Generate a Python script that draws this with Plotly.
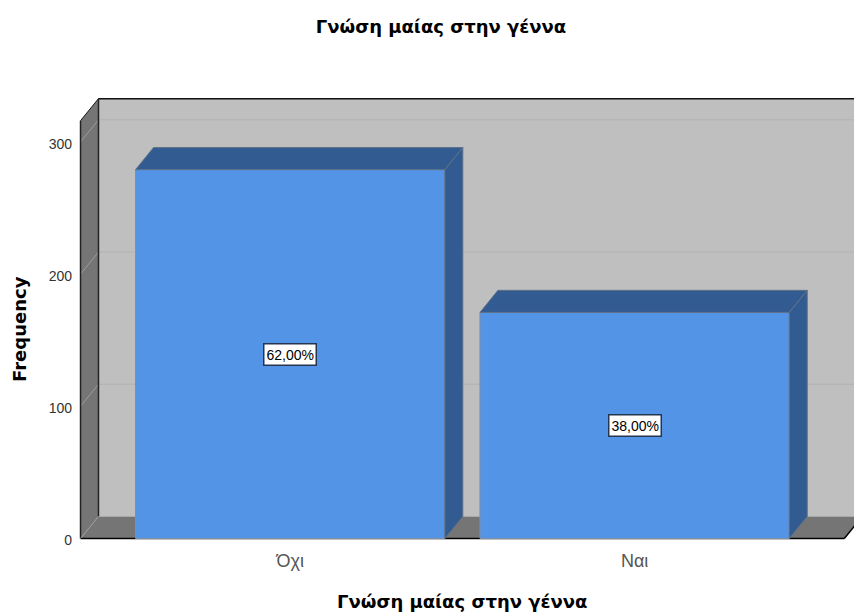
import plotly.graph_objects as go

# Data
categories = ["Όχι", "Ναι"]
frequencies = [279, 171]
percent_labels = ["62,00%", "38,00%"]
y_ticks = [0, 100, 200, 300]
chart_title = "Γνώση μαίας στην γέννα"
value_title = "Frequency"

# Pseudo-3D box proportions, in axis units
BAR_W = 0.898
DEPTH_X = 0.0522
DEPTH_Y = 16.7
WALL_TOP = 316
X_FRONT = (-0.6088, 1.6088)

# Page margins around the plot area, in pixels
PAGE_W, PAGE_H = 854, 615
M_L, M_R, M_T, M_B = 79, 0, 95.5, 73.5

# Colours
BAR_FRONT = "#5394E6"
BAR_DARK = "#325C91"
BAR_EDGE = "#5F7188"
WALL_BACK = "#BFBFBF"
WALL_SIDE = "#757575"
GRID_BACK = "#B2B2B2"
GRID_SIDE = "#9C9C9C"

TITLE_FONT = dict(family="DejaVu Sans", size=18, color="#000000", weight="bold")


def poly(points, fill, line=None, width=0):
    path = "M " + " L ".join(f"{x},{y}" for x, y in points) + " Z"
    return dict(type="path", path=path, xref="x", yref="y", layer="below",
                fillcolor=fill, line=dict(color=line or fill, width=width))


def seg(a, b, color, width=1):
    return dict(type="line", x0=a[0], y0=a[1], x1=b[0], y1=b[1], xref="x", yref="y",
                layer="below", line=dict(color=color, width=width))


def page_x(px):
    return (px - M_L) / (PAGE_W - M_L - M_R)


def page_y(py):
    return 1 - (py - M_T) / (PAGE_H - M_T - M_B)


x0, x1 = X_FRONT
bx0, bx1 = x0 + DEPTH_X, x1 + DEPTH_X

shapes = [
    poly([(bx0, DEPTH_Y), (bx0, WALL_TOP + DEPTH_Y), (bx1, WALL_TOP + DEPTH_Y), (bx1, DEPTH_Y)], WALL_BACK),
    poly([(x0, 0), (x0, WALL_TOP), (bx0, WALL_TOP + DEPTH_Y), (bx0, DEPTH_Y)], WALL_SIDE),
    poly([(x0, 0), (x1, 0), (bx1, DEPTH_Y), (bx0, DEPTH_Y)], WALL_SIDE),
]
for t in y_ticks[1:] + [WALL_TOP]:
    shapes.append(seg((bx0, t + DEPTH_Y), (bx1, t + DEPTH_Y), GRID_BACK, 1))
    shapes.append(seg((x0, t), (bx0, t + DEPTH_Y), GRID_SIDE if t != WALL_TOP else "#111111", 1))
shapes += [
    seg((x0, 0), (x0, WALL_TOP), "#222222", 1.5),
    seg((bx0, DEPTH_Y), (bx0, WALL_TOP + DEPTH_Y), "#222222", 1.5),
    seg((bx0, WALL_TOP + DEPTH_Y), (bx1, WALL_TOP + DEPTH_Y), "#111111", 1.5),
    seg((x0, 0), (x1, 0), "#000000", 1.5),
    seg((x1, 0), (bx1, DEPTH_Y), "#000000", 1.5),
    seg((x0, 0), (bx0, DEPTH_Y), GRID_SIDE, 1),
]

xs = list(range(len(categories)))
fig = go.Figure()

# Front faces of the bars
fig.add_trace(go.Bar(
    x=xs, y=frequencies, width=BAR_W,
    marker=dict(color=BAR_FRONT, line=dict(color="#7F8FA6", width=1)),
    hoverinfo="skip", showlegend=False,
))

# Top and right faces of the bars
for xc, v in zip(xs, frequencies):
    l, r = xc - BAR_W / 2, xc + BAR_W / 2
    fig.add_trace(go.Scatter(
        x=[l, r, r + DEPTH_X, l + DEPTH_X, l],
        y=[v, v, v + DEPTH_Y, v + DEPTH_Y, v],
        mode="lines", fill="toself", fillcolor=BAR_DARK,
        line=dict(color=BAR_EDGE, width=1), hoverinfo="skip", showlegend=False,
    ))
    fig.add_trace(go.Scatter(
        x=[r, r + DEPTH_X, r + DEPTH_X, r, r],
        y=[0, DEPTH_Y, v + DEPTH_Y, v, 0],
        mode="lines", fill="toself", fillcolor=BAR_DARK,
        line=dict(color=BAR_EDGE, width=1), hoverinfo="skip", showlegend=False,
    ))

annotations = [
    dict(x=xc, y=v / 2, xref="x", yref="y", text=lab, showarrow=False,
         font=dict(family="Liberation Sans", size=14, color="#000000"),
         bgcolor="#FFFFFF", bordercolor="#24364F", borderwidth=1.5, borderpad=2)
    for xc, v, lab in zip(xs, frequencies, percent_labels)
]

# Axis titles, placed on the page
annotations += [
    dict(x=page_x(462), y=page_y(602), xref="paper", yref="paper", text=chart_title,
         showarrow=False, xanchor="center", yanchor="middle", font=TITLE_FONT),
    dict(x=page_x(20), y=page_y(329), xref="paper", yref="paper", text=value_title,
         showarrow=False, textangle=-90, xanchor="center", yanchor="middle", font=TITLE_FONT),
]

fig.update_layout(
    width=PAGE_W, height=PAGE_H,
    margin=dict(l=M_L, r=M_R, t=M_T, b=M_B, autoexpand=False),
    paper_bgcolor="#FFFFFF", plot_bgcolor="#FFFFFF",
    title=dict(text=chart_title, x=441 / PAGE_W, xanchor="center", y=1 - 27 / PAGE_H, yanchor="middle",
               font=TITLE_FONT),
    shapes=shapes, annotations=annotations,
    font=dict(family="Liberation Sans"),
    xaxis=dict(
        range=[-0.6132, 1.637], tickmode="array", tickvals=xs, ticktext=categories,
        showgrid=False, zeroline=False, showline=False, ticks="",
        ticklabelstandoff=7,
        tickfont=dict(family="Liberation Sans", size=18, color="#555555"),
    ),
    yaxis=dict(
        range=[-1.9, 334.7], tickmode="array", tickvals=y_ticks,
        showgrid=False, zeroline=False, showline=False, ticks="",
        ticklabelstandoff=6, ticklabelshift=2,
        tickfont=dict(family="Liberation Sans", size=14, color="#333333"),
    ),
)

fig.write_html("out.html")
